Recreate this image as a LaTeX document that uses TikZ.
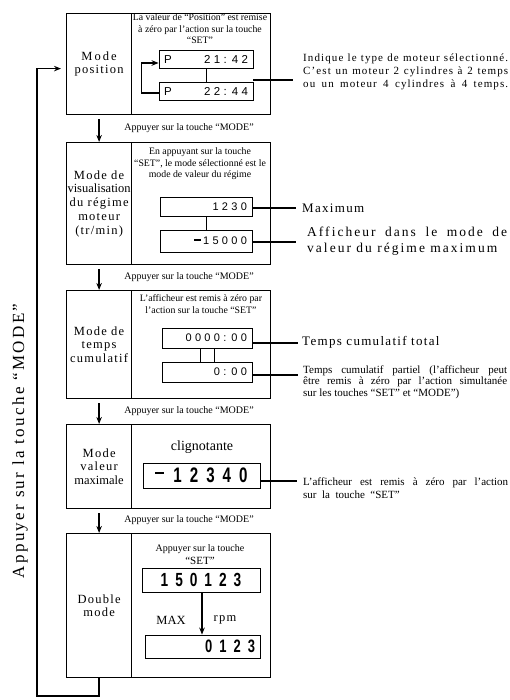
\documentclass[tikz,border=0pt]{standalone}
\usepackage{fontspec}
\usetikzlibrary{arrows.meta}
\setmainfont{Liberation Serif}
\newfontfamily\lsp{Liberation Serif}[LetterSpace=10]
\newfontfamily\lspm{Liberation Serif}[LetterSpace=15]
\newfontfamily\lspv{Liberation Serif}[LetterSpace=14]
\newfontfamily\lcd{Liberation Sans}[LetterSpace=12]
\newfontfamily\lcdb{Liberation Sans}[FakeStretch=0.72]
\newcommand\fs[2]{\fontsize{#1}{#2}\selectfont}
\begin{document}
\begin{tikzpicture}[x=1pt,y=-1pt,
  lbox/.style={draw, line width=1.2pt, minimum width=65pt, anchor=north west, inner sep=0pt, align=center, font=\lsp\fs{12.5}{13.7}},
  rbox/.style={draw, line width=1.2pt, minimum width=139pt, anchor=north west, inner sep=0pt},
  disp/.style={draw, line width=0.9pt, inner xsep=5pt, inner ysep=0pt, align=right},
  arr/.style={line width=1.3pt, -{Stealth[length=7pt,width=5.5pt]}},
  lead/.style={line width=1.3pt},
  small/.style={font=\fs{9.8}{11.5}, align=center, inner sep=0pt},
  note/.style={anchor=west, align=left, inner sep=0pt}
]
\useasboundingbox (0,0) rectangle (510,700);
\fill[white] (0,0) rectangle (510,700);

% ---- box 1
\node[lbox, minimum height=101pt] (l1) at (66,13) {M\,o\,d\,e\\position};
\node[rbox, minimum height=101pt] (r1) at (131,13) {};
\node[small] (t1) at (200,29) {La valeur de “Position” est remise\\à zéro par l’action sur la touche\\“SET”};
\node[disp, minimum width=94pt, minimum height=18pt, text width=84pt, align=left] (d1a) at (206,59) {\lcd\fs{11.5}{12}P\hfill 2 1 : 4 2};
\node[disp, minimum width=94pt, minimum height=18pt, text width=84pt, align=left] (d1b) at (206,91) {\lcd\fs{11.5}{12}P\hfill 2 2 : 4 4};
\draw[line width=1pt] (d1a.south) -- (d1b.north);
\draw[arr] ([yshift=-2pt]d1b.west) -- ++(-17,0) |- ([yshift=-4pt]d1a.west);
\coordinate (e1) at (293,80);
\draw[lead] (d1b.east |- e1) -- (e1);
\node[note, font=\lsp\fs{11}{13}] (n1) at (303,72) {\makebox[205pt][s]{Indique le type de moteur sélectionné.}\\\makebox[205pt][s]{C’est un moteur 2 cylindres à 2 temps}\\\makebox[205pt][s]{ou un moteur 4 cylindres à 4 temps.}};

% ---- box 2
\node[lbox, minimum height=122pt] (l2) at (66,142) {Mode de\\{\rmfamily visualisation}\\du régime\\moteur\\(tr/min)};
\node[rbox, minimum height=122pt] (r2) at (131,142) {};
\node[small] (t2) at (200,164) {En appuyant sur la touche\\“SET”, le mode sélectionné est le\\mode de valeur du régime};
\node[disp, minimum width=92pt, minimum height=19pt, text width=82pt] (d2a) at (206,206.5) {\lcd\fs{11}{12}1 2 3 0};
\node[disp, minimum width=92pt, minimum height=22pt, text width=82pt] (d2b) at (206,241) {\lcd\fs{11}{12}\raisebox{4pt}{\rule{7pt}{1.3pt}}\,1 5 0 0 0};
\draw[line width=1pt] (d2a.south) -- (d2b.north);
\coordinate (e2a) at (296,208);
\coordinate (e2b) at (296,242);
\draw[lead] (d2a.east |- e2a) -- (e2a);
\draw[lead] (d2b.east |- e2b) -- (e2b);
\node[note, font=\lsp\fs{13}{14}] (m2a) at (302,208) {Maximum};
\node[note, font=\lspm\fs{13.5}{16}] (m2b) at (307,241) {\makebox[200pt][s]{Afficheur dans le mode de}\\valeur du régime maximum};

% ---- box 3
\node[lbox, minimum height=108pt] (l3) at (66,290) {Mode de\\temps\\cumulatif};
\node[rbox, minimum height=108pt] (r3) at (131,290) {};
\node[small] (t3) at (201,304) {L’afficheur est remis à zéro par\\l’action sur la touche “SET”};
\node[disp, minimum width=90pt, minimum height=20pt, text width=80pt] (d3a) at (207,338) {\lcd\fs{11}{12}0 0 0 0 : 0 0};
\node[disp, minimum width=90pt, minimum height=20pt, text width=80pt] (d3b) at (207,372) {\lcd\fs{11}{12}0 : 0 0};
\draw[line width=1pt] ([xshift=-7pt]d3a.south) -- ([xshift=-7pt]d3b.north);
\draw[line width=1pt] ([xshift=7pt]d3a.south) -- ([xshift=7pt]d3b.north);
\coordinate (e3a) at (298,343);
\coordinate (e3b) at (298,375);
\draw[lead] (d3a.east |- e3a) -- (e3a);
\draw[lead] (d3b.east |- e3b) -- (e3b);
\node[note, font=\lsp\fs{13}{14}] (m3a) at (302,342) {Temps cumulatif total};
\node[note, font=\fs{11}{11.7}] (m3b) at (303,382) {\makebox[204pt][s]{Temps cumulatif partiel (l’afficheur peut}\\\makebox[204pt][s]{être remis à zéro par l’action simultanée}\\sur les touches “SET” et “MODE”)};

% ---- box 4
\node[lbox, minimum height=84pt] (l4) at (66,424) {Mode\\valeur\\{\rmfamily maximale}};
\node[rbox, minimum height=84pt] (r4) at (131,424) {};
\node[inner sep=0pt, font=\fs{14}{14}] (t4) at (202,447) {clignotante};
\node[disp, minimum width=117pt, minimum height=25pt, text width=107pt, align=center] (d4) at (201.5,475.5) {\lcdb\bfseries\fs{21}{21}\raisebox{9pt}{\rule{9pt}{1.8pt}}\hspace{9pt}1\hspace{8pt}2\hspace{8pt}3\hspace{8pt}4\hspace{8pt}0};
\coordinate (e4) at (297,481);
\draw[lead] (d4.east |- e4) -- (e4);
\node[note, font=\fs{11}{13}] (m4) at (303,488) {\makebox[205pt][s]{L’afficheur est remis à zéro par l’action}\\sur\ \ la\ \ touche\ \ “SET”};

% ---- box 5
\node[lbox, minimum height=144pt] (l5) at (66,533) {Double\\mode};
\node[rbox, minimum height=144pt] (r5) at (131,533) {};
\node[small, font=\fs{10}{13}] (t5) at (200,555) {Appuyer sur la touche\\{\fs{11}{13}“SET”}};
\node[disp, minimum width=118pt, minimum height=24pt, text width=108pt, align=center] (d5a) at (201,580) {\lcdb\bfseries\fs{19}{19}1\hspace{7pt}5\hspace{7pt}0\hspace{7pt}1\hspace{7pt}2\hspace{7pt}3};
\node[disp, minimum width=115pt, minimum height=23pt, text width=105pt] (d5b) at (202.5,646.5) {\lcdb\bfseries\fs{18}{18}0\hspace{7pt}1\hspace{7pt}2\hspace{7pt}3};
\draw[arr] (d5a.south -| 202,0) -- (d5b.north -| 202,0);
\node[inner sep=0pt, font=\fs{12.5}{13}] (mx) at (171,620) {MAX};
\node[inner sep=0pt, font=\lsp\fs{12.5}{13}] (rp) at (225,620) {rpm};

% ---- between-box arrows and labels
\foreach \a/\b/\y in {l1/l2/128, l2/l3/277, l3/l4/411, l4/l5/520} {
  \draw[arr, shorten <=4pt] (\a.south) -- (\b.north);
  \node[small, font=\fs{10}{10}] at (189,\y) {Appuyer sur la touche “MODE”};
}

% ---- return loop
\coordinate (lb) at (37,696);
\draw[arr, shorten >=5pt] (l5.south) |- (lb) |- ([yshift=-4.5pt]l1.west);
\node[rotate=90, inner sep=0pt, font=\lspv\fs{17}{17}] (vt) at (20,441) {Appuyer sur la touche “MODE”};
\end{tikzpicture}
\end{document}
